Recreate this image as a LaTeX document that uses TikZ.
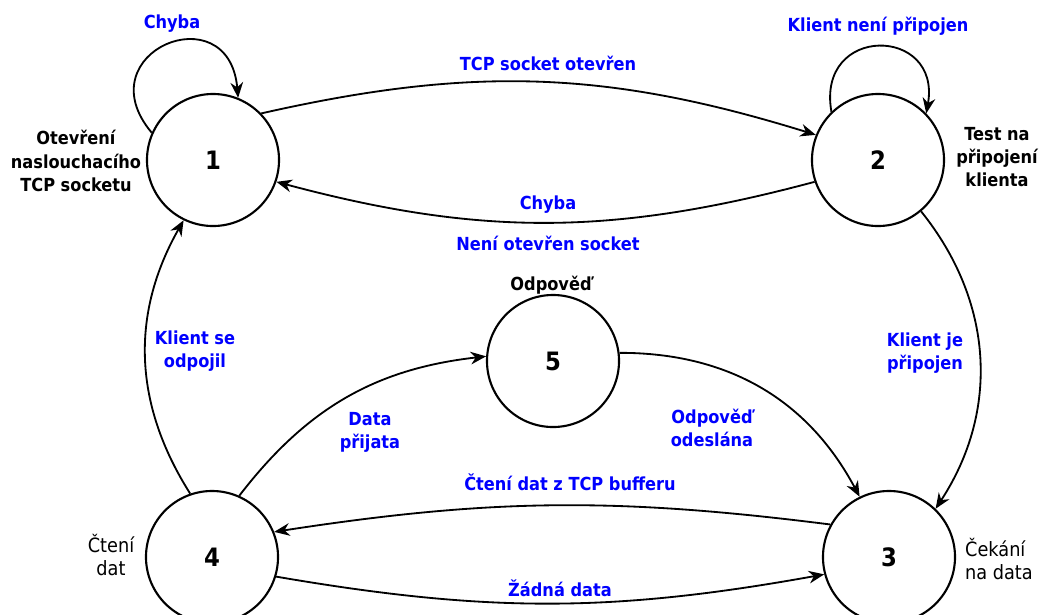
\documentclass[tikz,border=0pt]{standalone}
\usepackage{fontspec}
\setmainfont{DejaVu Sans Condensed}
\usetikzlibrary{arrows.meta}
\tikzset{
    state/.style={circle, draw, line width=1.5pt, minimum size=3.3cm, inner sep=0pt,
        font=\fontsize{18}{20}\selectfont\bfseries},
    trans/.style={-{Stealth[length=11pt,width=9pt]}, line width=1.3pt},
    lbl/.style={text=blue, align=center, font=\fontsize{12.8}{16.5}\selectfont\bfseries},
    desc/.style={align=center, font=\fontsize{12.8}{16.5}\selectfont\bfseries},
    descreg/.style={align=center, font=\fontsize{14}{17}\selectfont}
}
\begin{document}
\begin{tikzpicture}[x=0.025cm,y=-0.025cm]
                \useasboundingbox (0,0) rectangle (1040,614);
                \node [state] (s1) at (213,160) {1};
                \node [state] (s2) at (878,160) {2};
                \node [state] (s3) at (889,557) {3};
                \node [state] (s4) at (212,557) {4};
                \node [state] (s5) at (553,361) {5};
                \node [desc] (d1) at (76,161) {Otevření\\naslouchacího\\TCP socketu};
                \node [desc] (d2) at (997,157) {Test na\\připojení\\klienta};
                \node [desc] (d5) at (551,285) {Odpověď};
                \node [descreg] (d4) at (111,555) {Čtení\\dat};
                \node [descreg, align=left] (d3) at (999,559) {Čekání\\na data};
                \node [lbl] (c1) at (172,24) {Chyba};
                \node [lbl] (c2) at (878,26) {Klient není připojen};
                \node [lbl] (t12) at (548,63) {TCP socket otevřen};
                \node [lbl] (t21a) at (548,205) {Chyba};
                \node [lbl] (t21b) at (548,243) {Není otevřen socket};
                \node [lbl] (t23) at (925,353) {Klient je\\připojen};
                \node [lbl] (t41) at (195,351) {Klient se\\odpojil};
                \node [lbl] (t45) at (370,432) {Data\\přijata};
                \node [lbl] (t53) at (712,428) {Odpověď\\odeslána};
                \node [lbl] (t34) at (570,482) {Čtení dat z TCP bufferu};
                \node [lbl] (t43) at (560,588) {Žádná data};
                \draw [trans] (s1.156) to [out=130,in=95,looseness=2.9] (s1.68);
                \draw [trans] (s2.134) to [out=100,in=80,looseness=2.4] (s2.44);
                \draw [trans] (s1.44) to [bend left=15] (s2.158);
                \draw [trans] (s2.199) to [bend left=15] (s1.341);
                \draw [trans] (s2.310) to [bend left=36] (s3.46);
                \draw [trans] (s4.109) to [bend left=31] (s1.244);
                \draw [trans] (s4.66) to [bend left=23] (s5.176);
                \draw [trans] (s5.7) to [bend left=31] (s3.116);
                \draw [trans] (s3.151) to [bend right=8] (s4.22);
                \draw [trans] (s4.343) to [bend right=10] (s3.195);
\end{tikzpicture}
\end{document}
